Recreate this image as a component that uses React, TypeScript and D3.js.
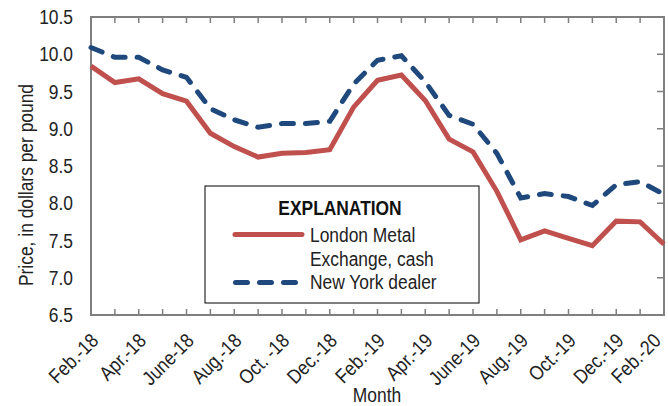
import * as d3 from "d3";
import { useEffect, useRef } from "react";

const months = [
  "Feb-18", "Mar-18", "Apr-18", "May-18", "Jun-18", "Jul-18", "Aug-18", "Sep-18", "Oct-18",
  "Nov-18", "Dec-18", "Jan-19", "Feb-19", "Mar-19", "Apr-19", "May-19", "Jun-19", "Jul-19",
  "Aug-19", "Sep-19", "Oct-19", "Nov-19", "Dec-19", "Jan-20", "Feb-20",
];
const tickLabels = [
  "Feb.-18", "", "Apr.-18", "", "June-18", "", "Aug.-18", "", "Oct. -18", "", "Dec.-18", "",
  "Feb.-19", "", "Apr.-19", "", "June-19", "", "Aug.-19", "", "Oct.-19", "", "Dec.-19", "", "Feb.-20",
];
const london = [
  9.84, 9.62, 9.67, 9.47, 9.37, 8.94, 8.76, 8.62, 8.67, 8.68, 8.72, 9.29, 9.65, 9.72, 9.38,
  8.86, 8.69, 8.16, 7.51, 7.63, 7.53, 7.43, 7.76, 7.75, 7.45,
];
const newYork = [
  10.09, 9.96, 9.96, 9.79, 9.69, 9.27, 9.12, 9.02, 9.07, 9.07, 9.1, 9.6, 9.92, 9.98, 9.63,
  9.18, 9.06, 8.67, 8.07, 8.13, 8.09, 7.97, 8.25, 8.29, 8.12,
];
const yTicks = [6.5, 7.0, 7.5, 8.0, 8.5, 9.0, 9.5, 10.0, 10.5];

const width = 668;
const height = 406;
const margin = { top: 17, right: 4, bottom: 91, left: 91 };
const font = "'Liberation Sans', Arial, sans-serif";
const squeeze = 0.87; // reference uses a condensed face
const red = "#c0504d";
const blue = "#1f497d";
const frame = "#7f7f7f";
const ink = "#222";

type G = d3.Selection<SVGGElement, unknown, null, undefined>;

function label(
  g: G,
  text: string,
  x: number,
  y: number,
  opts: { anchor?: string; rotate?: number; size?: number; bold?: boolean; dy?: string } = {}
) {
  return g
    .append("text")
    .attr("transform", `translate(${x}, ${y}) rotate(${opts.rotate ?? 0}) scale(${squeeze}, 1)`)
    .attr("dy", opts.dy ?? null)
    .attr("text-anchor", opts.anchor ?? "start")
    .attr("font-family", font)
    .attr("font-size", opts.size ?? 20)
    .attr("font-weight", opts.bold ? "bold" : "normal")
    .attr("fill", ink)
    .text(text);
}

export default function App() {
  const svgRef = useRef<SVGSVGElement | null>(null);

  useEffect(() => {
    if (!svgRef.current) return;
    const svg = d3.select(svgRef.current);
    svg.selectAll("*").remove();
    const root = svg.append("g") as G;

    const x0 = margin.left;
    const x1 = width - margin.right;
    const y0 = height - margin.bottom;
    const y1 = margin.top;
    const x = d3.scalePoint(months, [x0, x1]).padding(0);
    const y = d3.scaleLinear().domain([6.5, 10.5]).range([y0, y1]);

    // tick marks on top, bottom and right edges
    const ticks = root.append("g").attr("stroke", frame).attr("stroke-width", 1.5);
    months.slice(1, -1).forEach((m) => {
      const px = x(m) ?? 0;
      ticks.append("line").attr("x1", px).attr("x2", px).attr("y1", y1).attr("y2", y1 + 6);
      ticks.append("line").attr("x1", px).attr("x2", px).attr("y1", y0).attr("y2", y0 - 6);
    });
    yTicks.slice(1, -1).forEach((t) => {
      ticks.append("line").attr("x1", x1).attr("x2", x1 - 7).attr("y1", y(t)).attr("y2", y(t));
    });

    root
      .append("rect")
      .attr("x", x0)
      .attr("y", y1)
      .attr("width", x1 - x0)
      .attr("height", y0 - y1)
      .attr("fill", "none")
      .attr("stroke", frame)
      .attr("stroke-width", 2);

    const yLabels = root.append("g") as G;
    yTicks.forEach((t) => label(yLabels, t.toFixed(1), 73, y(t), { anchor: "end", dy: "0.36em" }));

    const xLabels = root.append("g") as G;
    months.forEach((m, i) => {
      if (!tickLabels[i]) return;
      // last label is nudged left so it stays inside the picture
      const shift = i === months.length - 1 ? -2 : 8.5;
      label(xLabels, tickLabels[i], (x(m) ?? 0) + shift, y0 + 27, { anchor: "end", rotate: -45 });
    });

    const line = d3
      .line<number>()
      .x((_v, i) => x(months[i]) ?? 0)
      .y((v) => y(v));

    root
      .append("path")
      .datum(london)
      .attr("d", line)
      .attr("fill", "none")
      .attr("stroke", red)
      .attr("stroke-width", 5);

    root
      .append("path")
      .datum(newYork)
      .attr("d", line)
      .attr("fill", "none")
      .attr("stroke", blue)
      .attr("stroke-width", 5)
      .attr("stroke-linecap", "round")
      .attr("stroke-dasharray", "12 12");

    // legend
    const lg = root.append("g") as G;
    lg.append("rect")
      .attr("x", 205)
      .attr("y", 186)
      .attr("width", 274)
      .attr("height", 117)
      .attr("fill", "#fff")
      .attr("stroke", "#000")
      .attr("stroke-width", 1);
    label(lg, "EXPLANATION", 340, 215, { anchor: "middle", bold: true }).attr("fill", "#111");
    lg.append("line")
      .attr("x1", 235)
      .attr("x2", 302)
      .attr("y1", 234.5)
      .attr("y2", 234.5)
      .attr("stroke", red)
      .attr("stroke-width", 5)
      .attr("stroke-linecap", "round");
    lg.append("line")
      .attr("x1", 235.5)
      .attr("x2", 297)
      .attr("y1", 282.5)
      .attr("y2", 282.5)
      .attr("stroke", blue)
      .attr("stroke-width", 5)
      .attr("stroke-linecap", "round")
      .attr("stroke-dasharray", "12 12");
    label(lg, "London Metal", 310, 242);
    label(lg, "Exchange, cash", 310, 266);
    label(lg, "New York dealer", 310, 289);

    label(root, "Price, in dollars per pound", 33, 185, { anchor: "middle", rotate: -90 });
    label(root, "Month", 377, 402, { anchor: "middle" });
  }, []);

  return (
    <svg
      ref={svgRef}
      width={width}
      height={height}
      style={{ position: "absolute", left: 0, top: 0, background: "#fff" }}
    />
  );
}
